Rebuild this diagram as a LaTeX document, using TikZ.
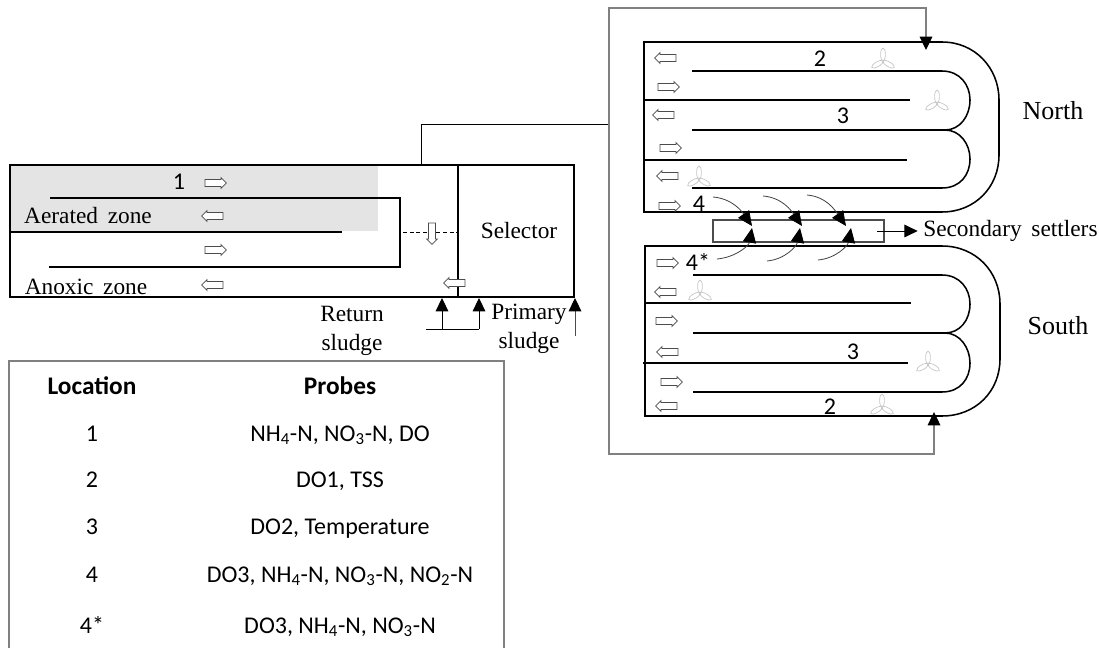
\documentclass[tikz,border=0pt]{standalone}
\usepackage{fontspec}
\setmainfont{Liberation Serif}
\newfontfamily\probefont{Carlito}
\usepackage{xcolor}
\usetikzlibrary{positioning, shapes.arrows, arrows.meta, calc}
\definecolor{zonefill}{HTML}{e4e4e4}
\definecolor{feedline}{HTML}{808080}
\definecolor{fanline}{HTML}{c4c4c4}

\begin{document}
\begin{tikzpicture}[
    x=0.75pt, y=-0.75pt,
    wall/.style={draw=black, line width=1.15pt},
    thin line/.style={draw=black, line width=0.65pt},
    feed/.style={draw=feedline, line width=0.9pt},
    tipb/.style={-{Triangle[length=10pt,width=9.5pt,color=black]}},
    curv/.style={draw=black!75, line width=0.6pt, -{Triangle[length=11pt,width=10pt,color=black]}},
    flowr/.style={single arrow, draw=black!70, fill=white, line width=0.6pt, inner sep=2.3pt,
      minimum height=16pt, single arrow head extend=1.4pt},
    flowl/.style={flowr, shape border rotate=180},
    flowd/.style={flowr, shape border rotate=270},
    lbl/.style={font=\fontsize{17.5}{19}\selectfont, inner sep=0pt, align=center},
    big/.style={font=\fontsize{19.5}{21}\selectfont, inner sep=0pt},
    num/.style={font=\probefont\fontsize{18}{20}\selectfont, inner sep=0pt},
    tab/.style={num, anchor=base},
    tabh/.style={tab, font=\probefont\bfseries\fontsize{19}{21}\selectfont},
    fan/.pic={\foreach \r in {90,210,330}
      \draw[fanline, line width=0.5pt, rotate=\r] (6.5,0) ellipse [x radius=6.5, y radius=2.4];}]
% --- Left tank ---
\fill[zonefill] (10,166) rectangle (378,231);
\draw[wall] (10,165) rectangle (574,297);
\draw[wall] (458,165) -- (458,297);
\draw[wall] (50,198) -- (400,198) -- (400,267) -- (49,267);
\draw[wall] (10,232) -- (342,232);
\draw[thin line, densely dashed, line width=0.5pt] (403,232) -- (458,232);
\foreach \y [count=\i] in {183,250}{\node[flowr] (tr\i) at (214,\y) {};}
\foreach \y [count=\i] in {216,285}{\node[flowl] (tl\i) at (214,\y) {};}
\node[flowd] (td) at (432,232) {};
\node[flowl] (ts) at (456,283) {};
\node[num] (loc1) at (179,182) {1};
\node[lbl] (aer) at (88,216) {Aerated\, zone};
\node[lbl] (ano) at (86,287) {Anoxic\, zone};
\node[lbl] (sel) at (519,231) {Selector};

% --- Sludge lines ---
\node[lbl] (ret) at (352,331) {Return\\[3pt]sludge};
\node[lbl] (pri) at (529,329) {Primary\\[3pt]sludge};
\coordinate (rs) at (426,329);
\coordinate (r1) at (442,298);
\coordinate (r2) at (479,298);
\coordinate (p1) at (575,336);
\coordinate (p2) at (575,298);
\draw[thin line] (rs) -- (r2 |- rs);
\draw[thin line, tipb] (r1 |- rs) -- (r1);
\draw[thin line, tipb] (r2 |- rs) -- (r2);
\draw[thin line, draw=black!70, tipb] (p1) -- (p2);

% --- Feed to both lanes ---
\coordinate (ttop) at (421,165);
\coordinate (mid) at (609,124);
\coordinate (ntip) at (926,50);
\coordinate (stip) at (934,412);
\coordinate (ncor) at (609,8);
\coordinate (scor) at (609,454);
\draw[thin line] (ttop) |- (mid);
\draw[feed, tipb] (mid) -- (ncor) -| (ntip);
\draw[feed, tipb] (mid) -- (scor) -| (stip);

% --- North lane ---
\draw[wall] (942,42) -- (644,42) -- (644,212) -- (942,212)
  .. controls (975,212) and (999,187) .. (999,155) -- (999,100)
  .. controls (999,68) and (975,42) .. (942,42);
\draw[wall] (692,71) -- (942,71) .. controls (960,71) and (970,85) .. (970,100)
  .. controls (970,116) and (960,130) .. (945,130)
  .. controls (960,130) and (970,144) .. (970,159)
  .. controls (970,175) and (960,188) .. (942,188) -- (692,188);
\draw[wall] (692,130) -- (945,130);
\draw[wall] (644,100) -- (910,100);
\draw[wall] (644,160) -- (907,160);
\foreach \x/\y [count=\i] in {667/58,665/115,669/176}{\node[flowl] (nl\i) at (\x,\y) {};}
\foreach \x/\y [count=\i] in {667/87,669/148,668/206}{\node[flowr] (nr\i) at (\x,\y) {};}
\path (883,61) pic {fan} (937,103) pic {fan} (699,179) pic {fan};
\node[num] (n2) at (820,59) {2};
\node[num] (n3) at (843,116) {3};
\node[num] (n4) at (699,204) {4};
\node[big] (north) at (1053,111) {North};

% --- South lane ---
\draw[wall] (942,246) -- (645,246) -- (645,416) -- (942,416)
  .. controls (976,416) and (1000,391) .. (1000,359) -- (1000,304)
  .. controls (1000,272) and (976,246) .. (942,246);
\draw[wall] (693,275) -- (942,275) .. controls (960,275) and (970,289) .. (970,304)
  .. controls (970,320) and (960,333) .. (945,333)
  .. controls (960,333) and (970,348) .. (970,363)
  .. controls (970,379) and (960,392) .. (942,392) -- (693,392);
\draw[wall] (693,333) -- (945,333);
\draw[wall] (645,303) -- (911,303);
\draw[wall] (643,363) -- (908,363);
\foreach \x/\y [count=\i] in {666/263,665/321,670/382}{\node[flowr] (sr\i) at (\x,\y) {};}
\foreach \x/\y [count=\i] in {667/292,669/352,668/406}{\node[flowl] (sl\i) at (\x,\y) {};}
\path (700,293) pic {fan} (928,364) pic {fan} (882,407) pic {fan};
\node[num] (s4) at (698,262) {4*};
\node[num] (s3) at (853,352) {3};
\node[num] (s2) at (830,407) {2};
\node[big] (south) at (1058,326) {South};

% --- Secondary settlers ---
\draw[draw=black!70, line width=0.8pt] (713,220) rectangle (884,242);
\coordinate (sout) at (877,231);
\node[lbl, anchor=west] (sec) at (923,231) {Secondary\, settlers};
\draw[thin line, tipb, shorten >=4pt] (sout) -- (sec.west);
\foreach \i/\sx/\sy/\tx in {1/713/197/752,2/763/196/802,3/807/195/846}{
  \coordinate (ns\i) at (\sx,\sy);
  \coordinate (nt\i) at (\tx,226);
  \draw[curv] (ns\i) to[out=-5,in=125] (nt\i);}
\foreach \i/\sx/\sy/\tx in {1/717/259/752,2/767/261/800,3/818/260/851}{
  \coordinate (ss\i) at (\sx,\sy);
  \coordinate (st\i) at (\tx,228);
  \draw[curv] (ss\i) to[out=5,in=-100] (st\i);}

% --- Probe table ---
\draw[feed] (9,648) |- (504,361) -- (504,648);
\node[tabh] (hloc) at (92,394) {Location};
\node[tabh] (hpro) at (340,394) {Probes};
\node[tab] (l1) at (92,441) {1};
\node[tab] (p1t) at (340,441) {NH\textsubscript{4}-N, NO\textsubscript{3}-N, DO};
\node[tab] (l2) at (92,487) {2};
\node[tab] (p2t) at (340,487) {DO1, TSS};
\node[tab] (l3) at (92,534) {3};
\node[tab] (p3t) at (340,534) {DO2, Temperature};
\node[tab] (l4) at (92,582) {4};
\node[tab] (p4t) at (340,582) {DO3, NH\textsubscript{4}-N, NO\textsubscript{3}-N, NO\textsubscript{2}-N};
\node[tab] (l5) at (92,633) {4*};
\node[tab] (p5t) at (340,633) {DO3, NH\textsubscript{4}-N, NO\textsubscript{3}-N};
\useasboundingbox (0,0) rectangle (1099,648);
\end{tikzpicture}
\end{document}
